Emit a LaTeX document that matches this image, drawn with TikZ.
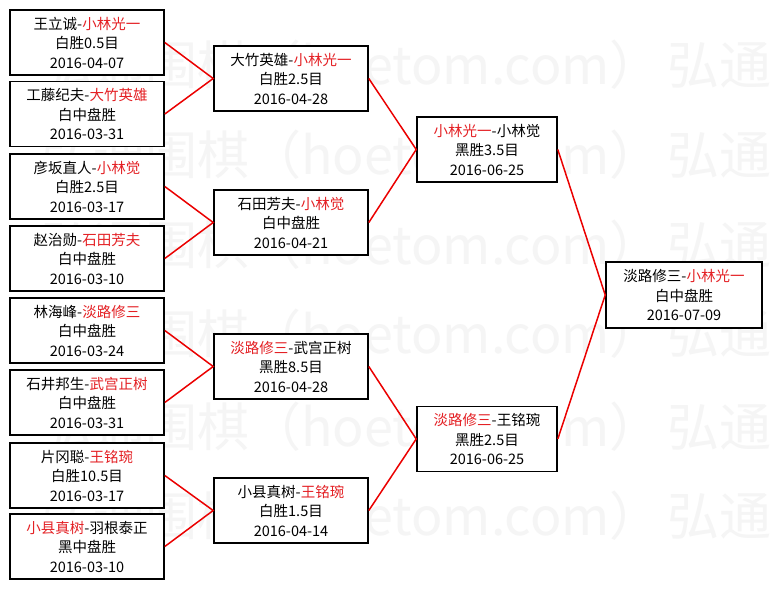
\documentclass[tikz,border=0pt]{standalone}
\usepackage{fontspec}
\setmainfont{Noto Sans CJK SC}
\definecolor{wred}{RGB}{228,32,36}
\definecolor{lred}{RGB}{235,0,0}
\definecolor{wmark}{RGB}{245,245,245}
\newcommand{\rd}[1]{\textcolor{wred}{#1}}
\tikzset{
  gamebox/.style={draw=black, line width=1.6pt, fill=white, align=center,
    minimum height=65pt, inner sep=0pt,
    font=\fontsize{14.5}{19.5}\selectfont},
  link/.style={draw=lred, line width=1.5pt},
  wm/.style={text=wmark, inner sep=0pt, font=\fontsize{52}{52}\selectfont}
}
\begin{document}
\begin{tikzpicture}[x=1pt,y=-1pt]
\useasboundingbox (0,0) rectangle (771,589);
\fill[white] (0,0) rectangle (771,589);
\begin{scope}
\clip (0,0) rectangle (771,589);
\foreach \yy [count=\i] in {84,174,264,353,446,535}{
  \node[wm, anchor=base east] (wl\i) at (662,\yy) {弘通围棋（hoetom.com）};
  \node[wm, anchor=base west] (wr\i) at (667,\yy) {弘通};
}
\end{scope}
% round 1
\node[gamebox, minimum width=154pt] (r1) at (87,42.5) {王立诚-\rd{小林光一}\\白胜0.5目\\2016-04-07};
\node[gamebox, minimum width=154pt] (r2) at (87,114) {工藤纪夫-\rd{大竹英雄}\\白中盘胜\\2016-03-31};
\node[gamebox, minimum width=154pt] (r3) at (87,186.5) {彦坂直人-\rd{小林觉}\\白胜2.5目\\2016-03-17};
\node[gamebox, minimum width=154pt] (r4) at (87,258.5) {赵治勋-\rd{石田芳夫}\\白中盘胜\\2016-03-10};
\node[gamebox, minimum width=154pt] (r5) at (87,330.5) {林海峰-\rd{淡路修三}\\白中盘胜\\2016-03-24};
\node[gamebox, minimum width=154pt] (r6) at (87,402.5) {石井邦生-\rd{武宫正树}\\白中盘胜\\2016-03-31};
\node[gamebox, minimum width=154pt] (r7) at (87,475.5) {片冈聪-\rd{王铭琬}\\白胜10.5目\\2016-03-17};
\node[gamebox, minimum width=154pt] (r8) at (87,546.5) {\rd{小县真树}-羽根泰正\\黑中盘胜\\2016-03-10};
% round 2
\node[gamebox, minimum width=154pt] (sa) at (291,78.5) {大竹英雄-\rd{小林光一}\\白胜2.5目\\2016-04-28};
\node[gamebox, minimum width=154pt] (sb) at (291,222.5) {石田芳夫-\rd{小林觉}\\白中盘胜\\2016-04-21};
\node[gamebox, minimum width=154pt] (sc) at (291,366.5) {\rd{淡路修三}-武宫正树\\黑胜8.5目\\2016-04-28};
\node[gamebox, minimum width=154pt] (sd) at (291,510.5) {小县真树-\rd{王铭琬}\\白胜1.5目\\2016-04-14};
% round 3
\node[gamebox, minimum width=140pt] (te) at (487,149.5) {\rd{小林光一}-小林觉\\黑胜3.5目\\2016-06-25};
\node[gamebox, minimum width=140pt] (tf) at (487,439) {\rd{淡路修三}-王铭琬\\黑胜2.5目\\2016-06-25};
% final
\node[gamebox, minimum width=156pt, minimum height=66pt] (fg) at (684,295) {淡路修三-\rd{小林光一}\\白中盘胜\\2016-07-09};
% connectors
\draw[link] (r1.east) -- (sa.west) -- (r2.east);
\draw[link] (r3.east) -- (sb.west) -- (r4.east);
\draw[link] (r5.east) -- (sc.west) -- (r6.east);
\draw[link] (r7.east) -- (sd.west) -- (r8.east);
\draw[link] (sa.east) -- (te.west) -- (sb.east);
\draw[link] (sc.east) -- (tf.west) -- (sd.east);
\draw[link] (te.east) -- (fg.west) -- (tf.east);
\end{tikzpicture}
\end{document}
